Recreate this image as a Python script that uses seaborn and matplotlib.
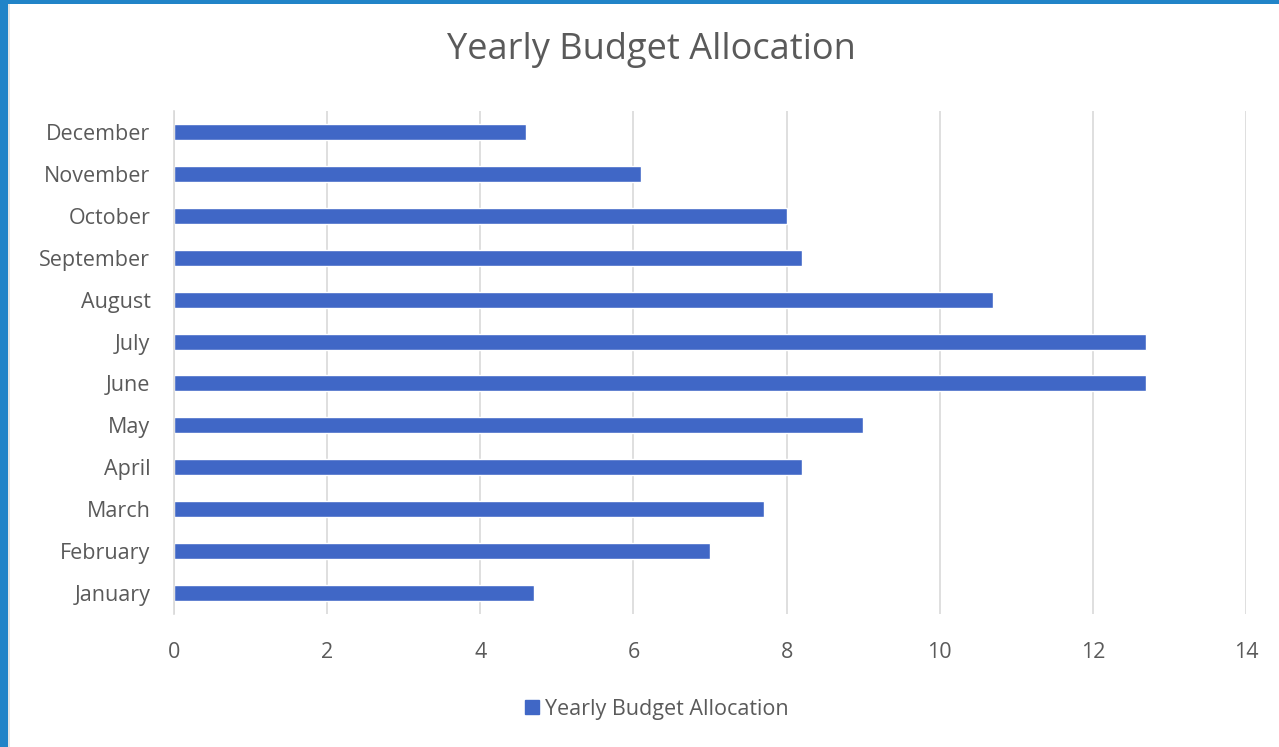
import matplotlib
matplotlib.use("Agg")
import matplotlib.pyplot as plt
import seaborn as sns
import pandas as pd
from matplotlib.patches import Rectangle
from matplotlib.lines import Line2D

months = ["January", "February", "March", "April", "May", "June",
          "July", "August", "September", "October", "November", "December"]
budget = [4.7, 7.0, 7.7, 8.2, 9.0, 12.7, 12.7, 10.7, 8.2, 8.0, 6.1, 4.6]
x_ticks = [0, 2, 4, 6, 8, 10, 12, 14]
series_name = "Yearly Budget Allocation"

df = pd.DataFrame({"Month": months, "Value": budget})

sns.set_theme(style="white")
plt.rcParams["font.family"] = ["Open Sans", "DejaVu Sans"]

W, H = 1279, 747
fig = plt.figure(figsize=(W / 100, H / 100), dpi=100)
ax = fig.add_axes([174 / W, 1 - 614 / H, (1246 - 174) / W, (614 - 111) / H])

bar_color = "#4067C6"
text_color = "#5A5A5A"

sns.barplot(data=df, x="Value", y="Month", order=months[::-1], orient="h",
            color=bar_color, saturation=1, width=0.38, ax=ax)

ax.set_xlim(0, 14)
ax.set_xticks(x_ticks)
ax.set_xticklabels([str(t) for t in x_ticks])
ax.grid(axis="x", color="#D9D9D9", linewidth=1.2)
ax.set_axisbelow(True)
for s in ["top", "right", "bottom"]:
    ax.spines[s].set_visible(False)
ax.spines["left"].set_color("#D9D9D9")
ax.spines["left"].set_linewidth(1.2)
ax.set_xlabel("")
ax.set_ylabel("")
ax.tick_params(axis="both", length=0, colors=text_color, labelsize=15.5)
ax.tick_params(axis="x", pad=20)
ax.tick_params(axis="y", pad=17)

fig.text(651 / W, 1 - 50 / H, series_name, ha="center", va="center",
         fontsize=26, color=text_color)

handle = Line2D([], [], marker="s", linestyle="none", markersize=10,
                markerfacecolor=bar_color, markeredgecolor=bar_color)
fig.legend([handle], [series_name], loc="center", bbox_to_anchor=(655 / W, 1 - 709 / H),
           frameon=False, fontsize=15.5, labelcolor=text_color,
           handletextpad=0.1, handlelength=1.0)

# blue frame
fig.patches.append(Rectangle((0, 0), 8 / W, 1, transform=fig.transFigure,
                             facecolor="#2184C8", edgecolor="none", zorder=10))
fig.patches.append(Rectangle((0, 1 - 4 / H), 1, 4 / H, transform=fig.transFigure,
                             facecolor="#2184C8", edgecolor="none", zorder=10))
fig.patches.append(Rectangle((8 / W, 0), 2 / W, 1 - 4 / H, transform=fig.transFigure,
                             facecolor="#E6E6E6", edgecolor="none", zorder=10))

fig.savefig("out.png", dpi=100)
